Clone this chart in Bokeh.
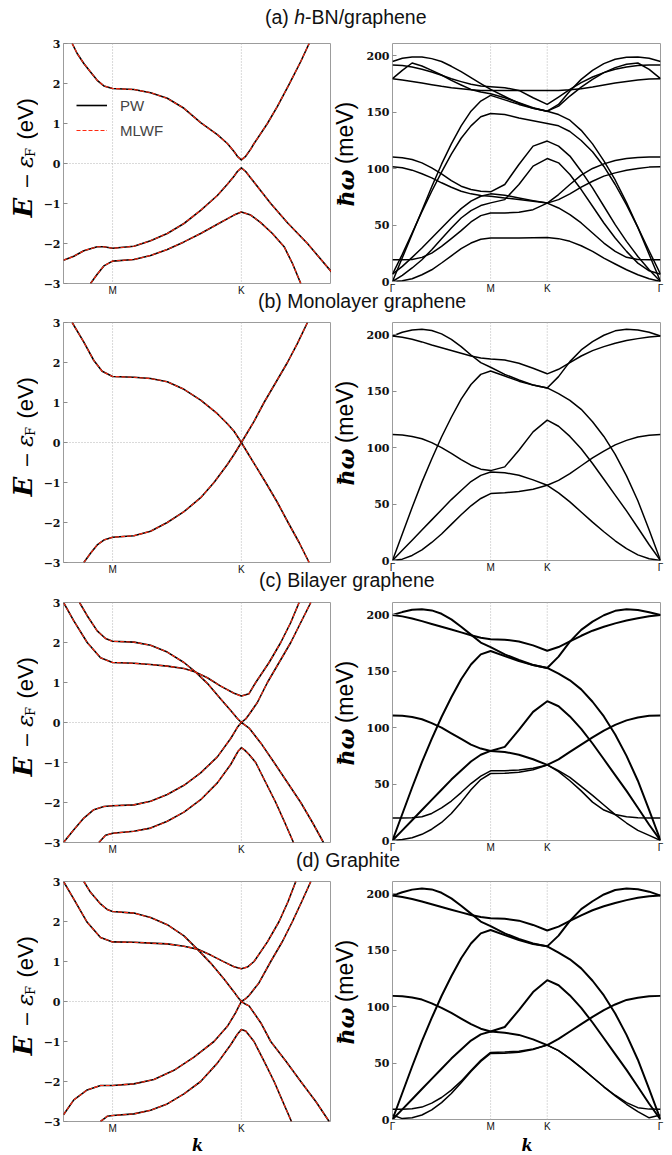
from math import pi
from bokeh.plotting import figure
from bokeh.models import Range1d, FixedTicker, Label, Span, Legend, LegendItem, Div
from bokeh.layouts import column, row
from bokeh.embed import file_html
from bokeh.resources import INLINE

# ---------------- path coordinates (Gamma-M-K-Gamma) ----------------
M_PT = 0.5774
K_PT = 0.9107
G_END = 1.5774
E_KMIN, E_KMAX = 0.4505, 1.1439

E_TICKS = [-3, -2, -1, 0, 1, 2, 3]
E_TICK_LABELS = ["\u22123", "\u22122", "\u22121", "0", "1", "2", "3"]
W_TICKS = [0, 50, 100, 150, 200]
W_TICK_LABELS = ["0", "50", "100", "150", "200"]
KE_TICKS = [M_PT, K_PT]
KE_TICK_LABELS = ["M", "K"]
KW_TICKS = [0.0, M_PT, K_PT, G_END]
KW_TICK_LABELS = ["\u0393", "M", "K", "\u0393"]

TITLES = ["(a) <i>h</i>-BN/graphene", "(b) Monolayer graphene",
          "(c) Bilayer graphene", "(d) Graphite"]

# ---------------- electronic bands (k, E - E_F in eV) ----------------
KA1 = [0.4729, 0.4859, 0.5031, 0.5204, 0.5377, 0.5549, 0.5774, 0.6327, 0.6758, 0.7190, 0.7622, 0.8054, 0.8486,
       0.8745, 0.8917, 0.9004, 0.9107, 0.9219, 0.9349, 0.9435, 0.9781, 1.0040, 1.0342, 1.0644, 1.0860]
EA1 = [3.0, 2.75, 2.5, 2.29, 2.08, 1.94, 1.875, 1.85, 1.77, 1.63, 1.38, 1.02, 0.72,
       0.50, 0.30, 0.18, 0.09, 0.18, 0.36, 0.50, 1.0, 1.43, 1.98, 2.55, 3.0]
KA2 = [0.4505, 0.4772, 0.5031, 0.5377, 0.5549, 0.5774, 0.6327, 0.6758, 0.7190, 0.7622, 0.8054, 0.8486,
       0.8745, 0.8917, 0.9004, 0.9107, 0.9219, 0.9349, 0.9608, 0.9867, 1.0299, 1.0817, 1.1439]
EA2 = [-2.42, -2.32, -2.18, -2.08, -2.08, -2.12, -2.07, -1.93, -1.75, -1.50, -1.17, -0.80,
       -0.52, -0.32, -0.20, -0.11, -0.20, -0.36, -0.68, -1.0, -1.48, -2.0, -2.71]
KA3 = [0.5204, 0.5377, 0.5549, 0.5774, 0.6327, 0.6758, 0.7190, 0.7622, 0.8054, 0.8486, 0.8917, 0.9107,
       0.9349, 0.9608, 0.9910, 1.0213, 1.0429, 1.0644]
EA3 = [-3.0, -2.77, -2.56, -2.44, -2.40, -2.30, -2.15, -1.96, -1.75, -1.52, -1.29, -1.21,
       -1.29, -1.48, -1.75, -2.08, -2.5, -3.0]

KB1 = [0.4729, 0.5031, 0.5290, 0.5506, 0.5774, 0.6327, 0.6758, 0.7190, 0.7622, 0.8054, 0.8486, 0.8745,
       0.8917, 0.9107, 0.9263, 0.9435, 0.9694, 0.9997, 1.0299, 1.0558, 1.0817]
EB1 = [3.0, 2.51, 2.05, 1.78, 1.65, 1.63, 1.60, 1.52, 1.33, 1.06, 0.72, 0.47,
       0.28, 0.0, 0.25, 0.53, 1.0, 1.5, 2.0, 2.48, 3.0]
KB2 = [0.5031, 0.5204, 0.5377, 0.5549, 0.5774, 0.6327, 0.6758, 0.7190, 0.7622, 0.8054, 0.8399, 0.8745,
       0.8917, 0.9107, 0.9263, 0.9435, 0.9737, 1.0040, 1.0316, 1.0601, 1.0860]
EB2 = [-3.0, -2.77, -2.56, -2.44, -2.37, -2.33, -2.22, -2.0, -1.73, -1.38, -1.0, -0.55,
       -0.30, 0.0, -0.25, -0.52, -1.0, -1.5, -2.0, -2.5, -3.0]

KC1 = [0.4919, 0.5118, 0.5377, 0.5593, 0.5774, 0.6327, 0.6758, 0.7190, 0.7622, 0.7924, 0.8227, 0.8572,
       0.8831, 0.9004, 0.9107, 0.9220, 0.9306, 0.9521, 0.9781, 1.0083, 1.0385, 1.0644, 1.0904]
EC1 = [3.0, 2.67, 2.29, 2.10, 2.03, 2.01, 1.93, 1.76, 1.50, 1.26, 0.98, 0.59,
       0.30, 0.10, 0.0, 0.09, 0.20, 0.50, 1.0, 1.5, 2.0, 2.5, 3.0]
KC2 = [0.4505, 0.4772, 0.5118, 0.5463, 0.5774, 0.6327, 0.6758, 0.7190, 0.7622, 0.7924, 0.8227, 0.8572,
       0.8917, 0.9107, 0.9306, 0.9478, 0.9824, 1.0126, 1.0385, 1.0601]
EC2 = [3.0, 2.54, 2.0, 1.62, 1.50, 1.48, 1.45, 1.41, 1.35, 1.26, 1.12, 0.91,
       0.73, 0.66, 0.72, 1.0, 1.5, 2.0, 2.5, 3.0]
KC3 = [0.4505, 0.4772, 0.5031, 0.5290, 0.5549, 0.5774, 0.6327, 0.6758, 0.7190, 0.7622, 0.8054, 0.8486,
       0.8831, 0.9004, 0.9107, 0.9220, 0.9306, 0.9608, 0.9954, 1.0299, 1.0644, 1.0947, 1.1231]
EC3 = [-3.0, -2.68, -2.39, -2.18, -2.10, -2.08, -2.06, -1.97, -1.80, -1.57, -1.26, -0.86,
       -0.40, -0.12, 0.0, -0.08, -0.14, -0.51, -1.0, -1.5, -2.0, -2.5, -3.0]
KC4 = [0.5420, 0.5593, 0.5774, 0.6327, 0.6758, 0.7190, 0.7622, 0.8054, 0.8486, 0.8831, 0.8917, 0.9021,
       0.9107, 0.9194, 0.9306, 0.9478, 0.9737, 0.9997, 1.0230, 1.0455]
EC4 = [-3.0, -2.82, -2.77, -2.72, -2.64, -2.47, -2.24, -1.93, -1.51, -1.05, -0.90, -0.72,
       -0.63, -0.69, -0.80, -1.0, -1.5, -2.0, -2.5, -3.0]

KD1 = [0.5031, 0.5204, 0.5463, 0.5636, 0.5774, 0.6327, 0.6758, 0.7190, 0.7622, 0.7967, 0.8313, 0.8658,
       0.8917, 0.9021, 0.9107, 0.9220, 0.9306, 0.9565, 0.9867, 1.0169, 1.0429, 1.0670, 1.0904]
ED1 = [3.0, 2.73, 2.44, 2.30, 2.25, 2.21, 2.10, 1.92, 1.64, 1.31, 0.96, 0.56,
       0.24, 0.10, 0.0, 0.07, 0.15, 0.47, 1.0, 1.5, 2.0, 2.5, 3.0]
KD2 = [0.4505, 0.4772, 0.5118, 0.5463, 0.5774, 0.6327, 0.6758, 0.7190, 0.7622, 0.7967, 0.8313, 0.8658,
       0.8917, 0.9107, 0.9263, 0.9435, 0.9781, 1.0083, 1.0316, 1.0515]
ED2 = [3.0, 2.56, 1.98, 1.60, 1.49, 1.48, 1.46, 1.44, 1.38, 1.31, 1.16, 0.99,
       0.87, 0.82, 0.86, 1.0, 1.49, 2.0, 2.5, 3.0]
KD3 = [0.4505, 0.4772, 0.5118, 0.5463, 0.5774, 0.6327, 0.6845, 0.7363, 0.7881, 0.8399, 0.8745, 0.8960,
       0.9047, 0.9107, 0.9220, 0.9306, 0.9608, 0.9867, 1.0256, 1.0644, 1.1033, 1.1378]
ED3 = [-2.83, -2.46, -2.21, -2.10, -2.10, -2.06, -1.95, -1.72, -1.39, -1.0, -0.62, -0.28,
       -0.11, 0.0, -0.07, -0.11, -0.53, -1.0, -1.49, -2.0, -2.5, -3.0]
KD4 = [0.5463, 0.5636, 0.5774, 0.6327, 0.6758, 0.7190, 0.7622, 0.8054, 0.8486, 0.8831, 0.9004, 0.9107,
       0.9220, 0.9435, 0.9694, 0.9954, 1.0178, 1.0403]
ED4 = [-3.0, -2.87, -2.85, -2.81, -2.72, -2.56, -2.31, -2.0, -1.54, -1.08, -0.82, -0.70,
       -0.74, -1.0, -1.49, -2.0, -2.5, -3.0]

# ---------------- phonon dispersions (meV) on the Gamma-M-K-Gamma grid ----------------
KP = [0.0, 0.0577, 0.1155, 0.1732, 0.2309, 0.2887, 0.3464, 0.4041, 0.4619, 0.5196, 0.5774,
      0.6607, 0.7440, 0.8274, 0.9107,
      0.9774, 1.0441, 1.1107, 1.1774, 1.2441, 1.3107, 1.3774, 1.4441, 1.5107, 1.5774]

# (a) h-BN/graphene
PA1 = [0, 0.6, 2.4, 6, 10.4, 16.4, 22.8, 29.1, 34.1, 37.4, 38.5, 38.5, 38.5, 38.7, 39,
       38, 35.6, 31.7, 26.7, 20.8, 15.5, 10.4, 6, 2.4, 0]
PA2 = [19.3, 19.3, 19.6, 21.4, 25.2, 31.2, 38, 45.1, 52.8, 58.4, 60.8, 60.8, 61.4, 63.7, 69.5,
       65.2, 59.3, 51.9, 43, 34.1, 26.7, 21.4, 19.6, 19.3, 19.3]
PA3 = [0, 5.4, 12, 19.3, 28.2, 38, 47.5, 56.3, 62.8, 67.3, 69.7, 72.6, 86, 102.3, 109,
       105.2, 94.9, 81.5, 66.7, 51.9, 38.5, 26.7, 16.3, 9.5, 6.5]
PA4 = [6.5, 13.4, 21.4, 29.7, 38.5, 47.5, 56.3, 64.6, 71.2, 75.6, 77.7, 76.5, 74.1, 71.7, 69.5,
       72.6, 77.7, 83.6, 88.9, 93.4, 96.3, 98.7, 100.2, 101.4, 101.7]
PA5 = [101.7, 100.8, 98.7, 95.5, 91.9, 87.5, 83.6, 80, 77.7, 76.2, 75.6, 74.1, 72.6, 71.2, 69.5,
       77.1, 86, 94.3, 100.2, 104.3, 107.3, 109, 110, 110.3, 110.3]
PA6 = [110.3, 109.8, 108.2, 105.2, 100.8, 95.5, 89.5, 84.5, 81.5, 80, 79.5, 86, 103.7, 120, 124.5,
       120, 111.2, 97.8, 83, 66.7, 50.4, 35.6, 22.2, 10.4, 0]
PA7 = [0, 21, 42, 63, 84, 104, 122, 138, 151, 160, 165, 161, 157, 153.5, 151,
       148, 143, 134, 122, 107, 90, 70, 48, 24, 0]
PA8 = [6.5, 24, 43, 62, 80, 97, 113, 127, 138, 146, 149, 148, 145, 142.5, 140,
       138, 133, 125, 115, 102, 86, 68, 48, 27, 6.5]
PA9 = [179.8, 178.6, 177.4, 176, 174.5, 173, 171.8, 170.9, 170, 169.4, 169.4, 169.4, 169.4, 169.4, 169.4,
       169.4, 170, 170.9, 172.4, 174.2, 176, 177.4, 178.6, 179.5, 179.8]
PA10 = [179.8, 187.2, 193.7, 191.1, 187.2, 183.1, 178.3, 174.2, 170.3, 168, 166.5, 162.9, 158.5, 154, 151,
        155.5, 164.4, 172.4, 179.2, 185.2, 189.6, 192.6, 193.7, 188.1, 179.8]
PA11 = [195, 197.9, 199.1, 199.1, 197.6, 195, 190.8, 186, 180.7, 175.4, 170.3, 164, 158, 153.5, 151,
        157, 168.9, 179.2, 187.2, 193.2, 197, 198.8, 199.1, 197.9, 195]
PA12 = [192, 191.4, 190.2, 188.1, 185.7, 182.8, 179.8, 177.2, 174.8, 173.3, 172.7, 171.8, 169.4, 162.9, 157,
        163.5, 170.3, 176.3, 181.3, 185.2, 188.1, 190.2, 191.4, 192, 192]

# (b) monolayer graphene
PB_ZA_ZO = [0, 1.2, 4.5, 9.5, 16, 23.5, 32, 40.5, 48.5, 55, 59.3, 60, 61.2, 63.2, 66.7,
            71, 77, 84, 91, 97, 102.5, 106.5, 109.5, 111, 111.7]
PB_ZO_TA = [111.7, 111.3, 110, 108, 104.5, 100, 95, 89.5, 84.5, 81, 79.7, 83, 97.8, 114, 124.4,
            119, 110, 99, 86, 72, 58, 44, 29, 14, 0]
PB_TA_ZA = [0, 9, 18, 27, 36, 45, 54, 62, 70, 75.5, 78.5, 77.8, 75.6, 71.5, 66.7,
            60, 52, 43, 34, 25.5, 17.5, 10.5, 5, 1.5, 0]
PB_LA_LO = [0, 23.5, 47, 69.5, 90, 109.5, 127, 143, 156, 165, 168, 163.5, 159, 155.5, 153,
            163, 176.3, 186.7, 194, 199.7, 203.6, 205, 204.4, 202.4, 199]
PB_LO_LA = [199, 202.4, 204.4, 205, 203.9, 200.9, 196.1, 189.6, 182.2, 175.4, 171.3, 165, 160, 155.6, 153,
            148, 142, 134, 123, 110, 94, 75, 53, 27, 0]
PB_TO = [199, 197.9, 196.1, 193.8, 191.1, 188.7, 186.1, 183.7, 181.3, 179.6, 178.7, 177.8, 174.8, 170.4, 165.5,
         169.5, 175.4, 181.3, 186.1, 189.6, 192.6, 195, 196.7, 198.2, 199]

# (c) bilayer graphene
PC_ZA = [0, 0.8, 2.5, 5.5, 10, 16, 24, 34, 45, 54, 59.4, 59.6, 60.5, 62.8, 67,
         62, 56, 48, 40, 31.5, 23, 15.5, 9, 4.5, 0]
PC_ZOP = [20, 20, 20.2, 21, 24, 29, 35, 42.5, 50.5, 57, 61.8, 61.8, 62.5, 64, 67,
          61, 53, 44, 34, 27, 23, 21, 20.2, 20, 20]
PC_TA_ZO = [0, 9, 18, 27, 36, 45, 54, 62, 70, 76, 79.4, 78.5, 76, 72, 67,
            72, 78.5, 85, 91.5, 97.5, 102.5, 106.5, 109, 110.5, 110.9]
PC_ZO_TA = [110.9, 110.5, 109.5, 107.5, 104, 100, 95, 90, 85, 81.5, 79.4, 83, 98, 114, 123.5,
            119, 110, 99, 86, 72, 58, 44, 29, 14, 0]
PC_LA_LO = [0, 23.5, 47, 69.5, 90, 109.5, 127, 143, 156, 165, 168, 163.5, 159, 155.5, 153,
            163, 176.3, 186.7, 194, 199.7, 203.6, 205, 204.4, 202.4, 200]
PC_LO_LA = [200, 202.5, 204.5, 205, 204, 201, 196, 189.5, 182.5, 175.5, 171.5, 165, 160, 155.6, 153,
            148, 142, 134, 123, 110, 94, 75, 53, 27, 0]
PC_TO = [200, 198.7, 196.8, 194.5, 192, 189.5, 187, 184.5, 182, 179.8, 178.5, 178, 176.5, 173, 168.2,
         171.5, 176.5, 181.5, 186, 189.5, 192.5, 195, 197, 198.8, 200]

# (d) graphite
PD_ZA = [4, 0.8, 1.5, 4, 8.5, 15, 23, 32.5, 42.5, 51.5, 58.5, 58.8, 59.7, 62, 66,
         61, 54, 46, 37.5, 29, 21, 13.5, 7, 1.5, 4]
PD_ZOP = [9, 9, 9.5, 11, 14.5, 19.5, 26, 34, 43.5, 52.5, 59.5, 59.8, 60.5, 62.5, 66,
          61, 54, 46, 37.5, 29, 21.5, 15, 10.5, 9.2, 9]
PD_TA_ZO = [0, 9, 18, 27, 36, 45, 54, 62, 70, 75.5, 78, 77, 75, 71, 66,
            71.5, 78, 84.5, 91, 97, 102, 106, 108, 109.3, 109.6]
PD_ZO_TA = [109.6, 109.2, 108.2, 106.3, 103, 99, 94.5, 89.5, 84.5, 80.5, 78, 82, 97, 113, 123.5,
            119, 110, 99, 86, 72, 58, 44, 29, 14, 0]
PD_LA_LO = [0, 23.5, 47, 69.5, 90, 109.5, 127, 143, 156, 165, 168, 163.5, 159, 155.5, 153.5,
            163, 176, 186.5, 193.5, 199.5, 203.5, 204.8, 204.2, 202, 198.5]
PD_LO_LA = [198.5, 201.5, 203.8, 204.8, 204, 201, 196, 189.5, 182.5, 175.5, 171.5, 165, 160, 156, 153.5,
            148, 142, 134, 123, 110, 94, 75, 53, 27, 0]
PD_TO = [198.5, 197.3, 195.5, 193.3, 190.8, 188.4, 186, 183.6, 181.3, 179.5, 178.5, 178, 176.3, 172.5, 167.6,
         171, 176, 181, 185.5, 189, 192, 194.5, 196.5, 198, 198.5]

# ---------------- styling helpers ----------------
GRID_COLOR = "#b4b4b4"
FRAME_COLOR = "#9c9c9c"
TICK_COLOR = "#8c8c8c"


def style_axes(p, yticks, ylabels, xticks, xlabels):
    p.grid.visible = False
    p.outline_line_color = FRAME_COLOR
    p.outline_line_width = 1
    ya = p.yaxis[0]
    ya.ticker = FixedTicker(ticks=yticks)
    ya.major_label_overrides = dict(zip(yticks, ylabels))
    ya.major_label_text_font = "DejaVu Serif"
    ya.major_label_text_font_style = "bold"
    ya.major_label_text_font_size = "11px"
    ya.major_label_text_color = "#111111"
    ya.major_label_standoff = 3
    ya.major_tick_in = 4
    ya.major_tick_out = 0
    ya.minor_tick_in = 0
    ya.minor_tick_out = 0
    ya.axis_line_color = None
    ya.major_tick_line_color = TICK_COLOR
    xa = p.xaxis[0]
    xa.ticker = FixedTicker(ticks=xticks)
    xa.major_label_overrides = dict(zip(xticks, xlabels))
    xa.major_label_text_font = "Liberation Sans"
    xa.major_label_text_font_size = "10px"
    xa.major_label_text_color = "#111111"
    xa.major_label_standoff = 1
    xa.major_tick_in = 0
    xa.major_tick_out = 0
    xa.minor_tick_in = 0
    xa.minor_tick_out = 0
    xa.axis_line_color = None
    for xv in xticks:
        if 0 < xv < G_END:
            p.add_layout(Span(location=xv, dimension="height", line_color=GRID_COLOR,
                              line_width=1, line_dash="1 2", level="underlay"))


def band_fig(bands, bottom, with_legend=False):
    p = figure(frame_width=268, frame_height=240, x_range=Range1d(E_KMIN, E_KMAX),
               y_range=Range1d(-3, 3), min_border_left=25, min_border_right=0,
               min_border_top=4, min_border_bottom=bottom,
               output_backend="svg", toolbar_location=None)
    style_axes(p, E_TICKS, E_TICK_LABELS, KE_TICKS, KE_TICK_LABELS)
    p.add_layout(Span(location=0, dimension="width", line_color=GRID_COLOR,
                      line_width=1, line_dash="1 2", level="underlay"))
    first = None
    for kk, ee in bands:
        r1 = p.line(kk, ee, line_color="black", line_width=1.6, line_join="round")
        r2 = p.line(kk, ee, line_color="#ff2a10", line_width=1.1, line_dash="4 2")
        if first is None:
            first = (r1, r2)
    if with_legend:
        leg = Legend(items=[LegendItem(label="PW", renderers=[first[0]]),
                            LegendItem(label="MLWF", renderers=[first[1]])],
                     location=(13, 143), border_line_color=None, background_fill_alpha=0,
                     padding=0, margin=0, glyph_width=31, glyph_height=20, label_height=20,
                     label_standoff=13, spacing=5, label_text_font="Liberation Sans",
                     label_text_font_size="15px")
        p.add_layout(leg)
    return p


def phonon_fig(thin, thick, bottom):
    p = figure(frame_width=268, frame_height=238, x_range=Range1d(0, G_END),
               y_range=Range1d(0, 211), min_border_left=31, min_border_right=8,
               min_border_top=4, min_border_bottom=bottom,
               output_backend="svg", toolbar_location=None)
    style_axes(p, W_TICKS, W_TICK_LABELS, KW_TICKS, KW_TICK_LABELS)
    for w in thin:
        p.line(KP, w, line_color="black", line_width=1.5, line_join="round")
    for w in thick:
        p.line(KP, w, line_color="black", line_width=2.0, line_join="round")
    return p


def text_fig(w, h, pieces):
    """Blank canvas holding axis-title texts (pieces: text, x, y, font, size, style, angle, align)."""
    f = figure(width=w, height=h, x_range=Range1d(0, w), y_range=Range1d(0, h),
               min_border=0, x_axis_type=None, y_axis_type=None,
               output_backend="svg", toolbar_location=None)
    f.outline_line_color = None
    f.grid.visible = False
    for text, x, y, font, size, style, ang, align in pieces:
        f.add_layout(Label(x=x, y=y, text=text, angle=ang, text_font=font,
                           text_font_size=size, text_font_style=style, text_align=align,
                           text_baseline="middle", text_color="black"))
    return f


def e_label_fig(h, b):
    return text_fig(38, h, [
        ("E", 22.5, 54 + b, "DejaVu Serif", "26px", "bold italic", pi / 2, "left"),
        ("\u2212", 25, 85 + b, "DejaVu Serif", "19px", "normal", pi / 2, "left"),
        ("\u03b5", 24, 108 + b, "DejaVu Serif", "23px", "italic", pi / 2, "left"),
        ("F", 30, 120 + b, "DejaVu Serif", "13px", "normal", pi / 2, "left"),
        ("(eV)", 25, 139 + b, "Liberation Sans", "22px", "normal", pi / 2, "left"),
    ])


def w_label_fig(h, b):
    return text_fig(30, h, [
        ("\u0127\u03c9", 14.5, 64 + b, "DejaVu Serif", "22px", "bold italic", pi / 2, "left"),
        ("(meV)", 13.5, 110 + b, "Liberation Sans", "23px", "normal", pi / 2, "left"),
    ])


def title_div(html, left, top, h):
    txt = ('<div style="position:relative;left:%dpx;top:%dpx;white-space:nowrap;'
           'font-family:\'Liberation Sans\',sans-serif;font-size:19.5px;line-height:1;'
           'color:#111111">%s</div>' % (left, top, html))
    return Div(text=txt, width=664, height=h, margin=0)


def panel_row(pl, pr, h, bl, br):
    return row(e_label_fig(h, bl), pl, w_label_fig(h, br), pr, spacing=0)


pa_l = band_fig([(KA1, EA1), (KA2, EA2), (KA3, EA3)], 16, with_legend=True)
pa_r = phonon_fig([PA1, PA2, PA3, PA4, PA5, PA6, PA7, PA8, PA9, PA10, PA11, PA12], [], 18)
pb_l = band_fig([(KB1, EB1), (KB2, EB2)], 16)
pb_r = phonon_fig([PB_ZA_ZO, PB_ZO_TA, PB_TA_ZA, PB_LA_LO, PB_LO_LA, PB_TO], [], 18)
pc_l = band_fig([(KC1, EC1), (KC2, EC2), (KC3, EC3), (KC4, EC4)], 16)
pc_r = phonon_fig([PC_ZA, PC_ZOP], [PC_TA_ZO, PC_ZO_TA, PC_LA_LO, PC_LO_LA, PC_TO], 18)
pd_l = band_fig([(KD1, ED1), (KD2, ED2), (KD3, ED3), (KD4, ED4)], 16)
pd_r = phonon_fig([PD_ZA, PD_ZOP], [PD_TA_ZO, PD_ZO_TA, PD_LA_LO, PD_LO_LA, PD_TO], 18)

k_row = row(
    text_fig(331, 17, [("k", 197, 8.8, "DejaVu Serif", "16px", "bold italic", 0, "center")]),
    text_fig(337, 17, [("k", 195.5, 8.8, "DejaVu Serif", "16px", "bold italic", 0, "center")]),
    spacing=0)

layout = column(
    title_div(TITLES[0], 265, 8, 39), panel_row(pa_l, pa_r, 260, 16, 18),
    title_div(TITLES[1], 258, -7, 19), panel_row(pb_l, pb_r, 260, 16, 18),
    title_div(TITLES[2], 259, -7, 20), panel_row(pc_l, pc_r, 260, 16, 18),
    title_div(TITLES[3], 296, -7, 19), panel_row(pd_l, pd_r, 260, 16, 18),
    k_row,
    spacing=0,
)

open("out.html", "w").write(file_html(layout, INLINE))
